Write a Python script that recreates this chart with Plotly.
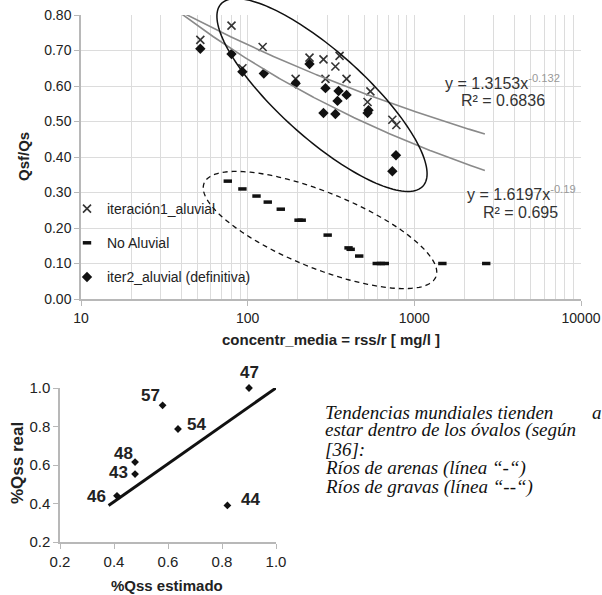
import numpy as np
import plotly.graph_objects as go

W, H = 602, 595

# ---------------- top chart data ----------------
iter1_x = [52, 80, 93, 123, 194, 235, 285, 356, 336, 293, 392, 545, 524, 738, 780]
iter1_y = [0.73, 0.77, 0.65, 0.71, 0.62, 0.68, 0.675, 0.685, 0.655, 0.62, 0.62, 0.585, 0.555, 0.505, 0.49]

noal_x = [76, 93, 113, 132, 158, 202, 211, 302, 403, 415, 467, 595, 630, 665, 1473, 2700]
noal_y = [0.332, 0.31, 0.29, 0.273, 0.253, 0.222, 0.222, 0.18, 0.144, 0.14, 0.121, 0.10, 0.10, 0.10, 0.10, 0.10]

iter2_x = [52, 80, 93, 125, 194, 235, 293, 351, 392, 346, 285, 336, 531, 524, 776, 738]
iter2_y = [0.705, 0.69, 0.64, 0.635, 0.607, 0.662, 0.594, 0.586, 0.575, 0.558, 0.524, 0.521, 0.532, 0.524, 0.405, 0.36]

x_tickvals = [10, 100, 1000, 10000]
x_ticktext = ["10", "100", "1000", "10000"]

# power trendlines shown on the chart: y = a * x^b
fit_a = [1.3153, 1.6197]
fit_b = [-0.132, -0.19]
fit_r2 = ["0.6836", "0.695"]
fit_xmin, fit_xmax = 40, 2650

# ---------------- bottom chart data ----------------
qss_est = [0.90, 0.58, 0.637, 0.478, 0.478, 0.411, 0.82]
qss_real = [1.00, 0.91, 0.787, 0.615, 0.553, 0.44, 0.39]
qss_labels = ["47", "57", "54", "48", "43", "46", "44"]
line_x = [0.38, 1.0]
line_y = [0.39, 1.0]

SANS = "Liberation Sans, Arial, sans-serif"
SERIF = "Liberation Serif, Times New Roman, serif"


def px_x(p):
    return p / W


def px_y(p):
    return 1 - p / H


fig = go.Figure()

fig.add_trace(go.Scatter(
    x=iter1_x, y=iter1_y, mode="markers", name="iteración1_aluvial",
    legendgroup="a",
    marker=dict(symbol="x-thin-open", size=8, color="#333", line=dict(width=1.6, color="#333")),
    xaxis="x", yaxis="y"))
fig.add_trace(go.Scatter(
    x=noal_x, y=noal_y, mode="markers", name="No Aluvial",
    legendgroup="b",
    marker=dict(symbol="line-ew-open", size=6, color="#111", line=dict(width=3.5, color="#111")),
    xaxis="x", yaxis="y"))
fig.add_trace(go.Scatter(
    x=iter2_x, y=iter2_y, mode="markers", name="iter2_aluvial (definitiva)",
    legendgroup="c",
    marker=dict(symbol="diamond", size=8, color="#111"),
    xaxis="x", yaxis="y"))

xs = np.logspace(np.log10(fit_xmin), np.log10(fit_xmax), 200)
for a, b in zip(fit_a, fit_b):
    fig.add_trace(go.Scatter(
        x=xs, y=a * xs ** b, mode="lines", showlegend=False, hoverinfo="skip",
        line=dict(color="#8a8a8a", width=1.6), xaxis="x", yaxis="y", cliponaxis=True))

# bottom chart
fig.add_trace(go.Scatter(
    x=line_x, y=line_y, mode="lines", showlegend=False,
    line=dict(color="#111", width=3), xaxis="x2", yaxis="y2"))
fig.add_trace(go.Scatter(
    x=qss_est, y=qss_real, mode="markers", showlegend=False,
    marker=dict(symbol="diamond", size=6, color="#111"),
    xaxis="x2", yaxis="y2", cliponaxis=False))

annotations = []
label_offsets = [(0, -16), (-12, -10), (19, -5), (-12, -9), (-17, -2), (-20, 1), (23, -6)]
for xv, yv, t, (dx, dy) in zip(qss_est, qss_real, qss_labels, label_offsets):
    annotations.append(dict(
        x=xv, y=yv, xref="x2", yref="y2", text=t, showarrow=True, arrowcolor="rgba(0,0,0,0)",
        ax=dx, ay=dy, font=dict(family=SANS, size=17, color="#222", weight="bold")))


def ellipse_path(cx, cy, a, b, deg, n=160):
    th = np.deg2rad(deg)
    t = np.linspace(0, 2 * np.pi, n)
    xx = cx + a * np.cos(t) * np.cos(th) - b * np.sin(t) * np.sin(th)
    yy = cy + a * np.cos(t) * np.sin(th) + b * np.sin(t) * np.cos(th)
    pts = [f"{px_x(u):.5f},{px_y(v):.5f}" for u, v in zip(xx, yy)]
    return "M" + " L".join(pts) + " Z"


shapes = [
    dict(type="path", xref="paper", yref="paper", path=ellipse_path(322, 95, 136, 43, 42),
         line=dict(color="#111", width=1.5)),
    dict(type="path", xref="paper", yref="paper", path=ellipse_path(320, 230, 125, 38, 22),
         line=dict(color="#111", width=1.3, dash="5px,4px")),
]

# trendline equations
eq_font = dict(family=SANS, size=16, color="#333")
eqs = [
    (502, 82, f"y = {fit_a[0]}x<sup><span style='color:#999'>{fit_b[0]}</span></sup>", 503, 100, fit_r2[0]),
    (521, 193, f"y = {fit_a[1]}x<sup><span style='color:#999'>{fit_b[1]}</span></sup>", 520, 212, fit_r2[1]),
]
for x1, y1, t1, x2, y2, r2 in eqs:
    annotations.append(dict(x=px_x(x1), y=px_y(y1), xref="paper", yref="paper", text=t1,
                            showarrow=False, xanchor="center", yanchor="middle", font=eq_font))
    annotations.append(dict(x=px_x(x2), y=px_y(y2), xref="paper", yref="paper", text=f"R² = {r2}",
                            showarrow=False, xanchor="center", yanchor="middle", font=eq_font))

# axis titles
title_font = dict(family=SANS, size=15, color="#222", weight="bold")
annotations += [
    dict(x=px_x(331), y=px_y(339), xref="paper", yref="paper", text="concentr_media = rss/r [ mg/l ]",
         showarrow=False, xanchor="center", yanchor="middle", font=title_font),
    dict(x=px_x(24), y=px_y(157), xref="paper", yref="paper", text="Qsf/Qs", textangle=-90,
         showarrow=False, xanchor="center", yanchor="middle", font=title_font),
    dict(x=px_x(167), y=px_y(585), xref="paper", yref="paper", text="%Qss estimado",
         showarrow=False, xanchor="center", yanchor="middle", font=title_font),
    dict(x=px_x(17), y=px_y(463), xref="paper", yref="paper", text="%Qss real", textangle=-90,
         showarrow=False, xanchor="center", yanchor="middle",
         font=dict(family=SANS, size=17, color="#222", weight="bold")),
]

# right-side note (first line is justified in the source)
note_font = dict(family=SERIF, size=19, color="#111")
note_items = [
    ("Tendencias mundiales tienden", 323, 412),
    ("a", 590, 412),
    ("estar dentro de los óvalos (según", 323, 430),
    ("[36]:", 323, 449),
    ("Ríos de arenas (línea “-“)", 323, 468),
    ("Ríos de gravas (línea “--“)", 323, 487),
]
for t, xx, yy in note_items:
    annotations.append(dict(x=px_x(xx), y=px_y(yy), xref="paper", yref="paper", text=f"<i>{t}</i>",
                            showarrow=False, xanchor="left", yanchor="middle", font=note_font))

grid = "#dcdcdc"
axline = "#b8b8b8"
tickfont = dict(family=SANS, size=14, color="#222")

fig.update_layout(
    template="none",
    width=W, height=H, margin=dict(l=0, r=0, t=0, b=0, autoexpand=False),
    paper_bgcolor="white", plot_bgcolor="white",
    showlegend=True,
    legend=dict(x=px_x(67), y=px_y(193), xanchor="left", yanchor="top",
                bgcolor="rgba(0,0,0,0)", font=dict(family=SANS, size=14, color="#222"),
                tracegroupgap=13, traceorder="grouped"),
    xaxis=dict(type="log", range=[1, 4], domain=[px_x(81), px_x(581)], anchor="y",
               automargin=False,
               showgrid=True, gridcolor=grid, gridwidth=1, zeroline=False,
               showline=True, linecolor=axline, linewidth=1.5,
               ticks="outside", ticklen=5, tickcolor=axline,
               tickvals=x_tickvals, ticktext=x_ticktext,
               tickfont=tickfont,
               minor=dict(dtick="D1", showgrid=True, gridcolor=grid, ticks="")),
    yaxis=dict(range=[0, 0.8], domain=[px_y(299), px_y(15)], anchor="x",
               automargin=False,
               dtick=0.1, tickformat=".2f",
               showgrid=True, gridcolor=grid, zeroline=False,
               showline=True, linecolor=axline, linewidth=1.5,
               ticks="outside", ticklen=5, tickcolor=axline, tickfont=tickfont),
    xaxis2=dict(range=[0.2, 1.0], domain=[px_x(60), px_x(276)], anchor="y2",
                automargin=False,
                dtick=0.2, tickformat=".1f", showgrid=False, zeroline=False,
                showline=True, linecolor=axline, linewidth=1.5,
                ticks="outside", ticklen=5, tickcolor=axline,
                tickfont=dict(family=SANS, size=15, color="#222")),
    yaxis2=dict(range=[0.2, 1.0], domain=[px_y(542), px_y(388)], anchor="x2",
                automargin=False,
                dtick=0.2, tickformat=".1f", showgrid=False, zeroline=False,
                showline=True, linecolor=axline, linewidth=1.5,
                ticks="outside", ticklen=5, tickcolor=axline,
                tickfont=dict(family=SANS, size=15, color="#222")),
    shapes=shapes,
    annotations=annotations,
)

# remove the browser's default 8px page margin so the figure fills the window exactly
fig.write_html("out.html", config={"displayModeBar": False},
               post_script="document.body.style.margin='0';")
